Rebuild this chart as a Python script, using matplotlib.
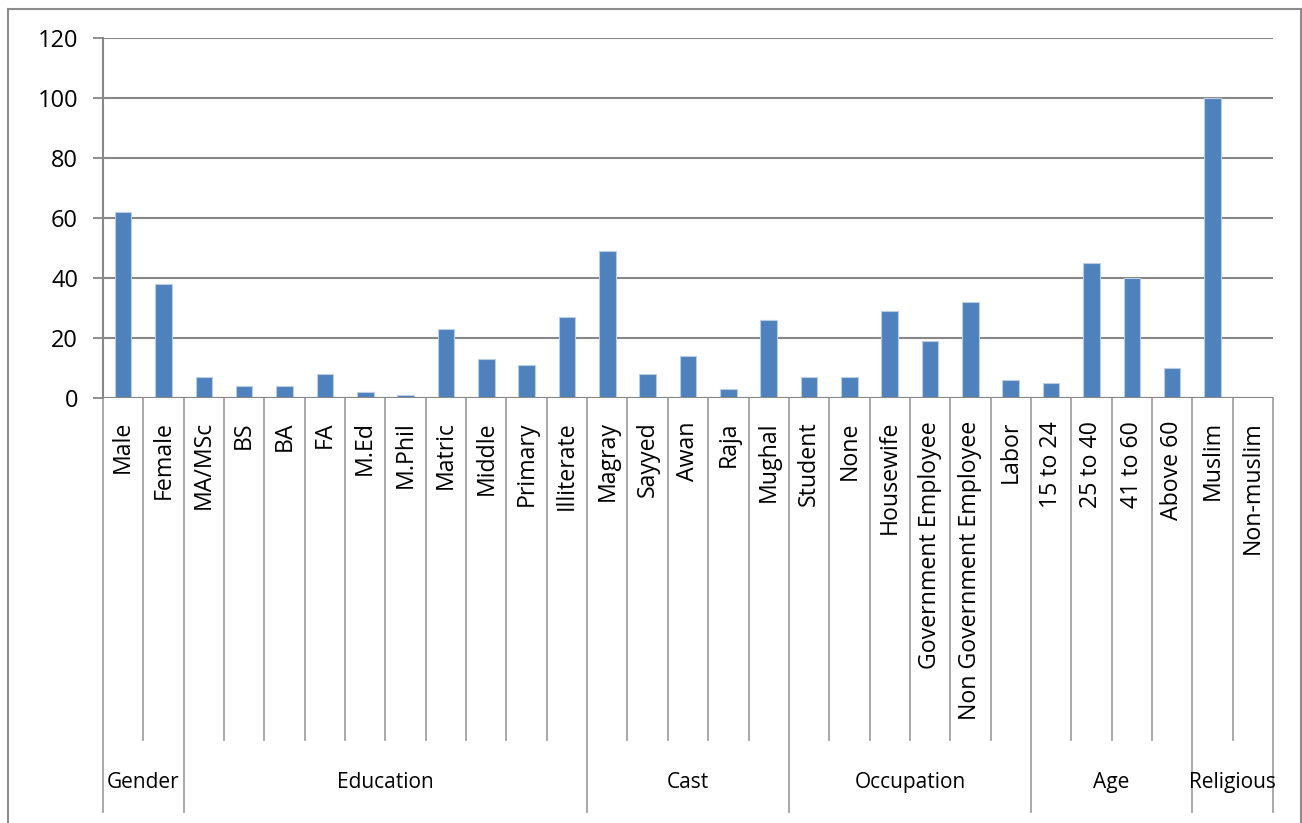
import matplotlib
matplotlib.use("Agg")
import matplotlib.pyplot as plt
from matplotlib.lines import Line2D
from matplotlib.transforms import blended_transform_factory

categories = ["Male", "Female", "MA/MSc", "BS", "BA", "FA", "M.Ed", "M.Phil", "Matric",
              "Middle", "Primary", "Illiterate", "Magray", "Sayyed", "Awan", "Raja", "Mughal",
              "Student", "None", "Housewife", "Government Employee", "Non Government Employee",
              "Labor", "15 to 24", "25 to 40", "41 to 60", "Above 60", "Muslim", "Non-muslim"]
values = [62, 38, 7, 4, 4, 8, 2, 1, 23, 13, 11, 27, 49, 8, 14, 3, 26,
          7, 7, 29, 19, 32, 6, 5, 45, 40, 10, 100, 0]
groups = ["Gender", "Education", "Cast", "Occupation", "Age", "Religious"]
group_sizes = [2, 10, 5, 6, 4, 2]
yticks = [0, 20, 40, 60, 80, 100, 120]

W, H = 1302, 823
fig = plt.figure(figsize=(W / 100, H / 100), dpi=100)
plt.rcParams['font.family'] = ['Open Sans', 'DejaVu Sans']

x0, x1 = 103, 1273
y_top, y_bot = 38, 398
ax = fig.add_axes([x0 / W, 1 - y_bot / H, (x1 - x0) / W, (y_bot - y_top) / H])

grid_c = "#878787"
n = len(categories)
xs = list(range(n))
ax.bar(xs, values, width=0.41, color="#4F81BD", edgecolor="#B9CDE5", linewidth=0.8, zorder=3)
ax.set_xlim(-0.5, n - 0.5)
ax.set_ylim(0, 120)
ax.set_yticks(yticks)
ax.set_yticklabels([str(v) for v in yticks], fontsize=17)
ax.tick_params(axis='y', length=7, width=1.3, color=grid_c, pad=11)
ax.set_xticks([])
for s in ["top", "right", "bottom"]:
    ax.spines[s].set_visible(False)
ax.spines["left"].set_color(grid_c)
ax.spines["left"].set_linewidth(1.5)
ax.yaxis.grid(True, color=grid_c, linewidth=1.5, zorder=0)
ax.set_axisbelow(True)
ax.axhline(0, color=grid_c, linewidth=1.5, zorder=4)

tr = blended_transform_factory(ax.transData, ax.transAxes)
ph = y_bot - y_top
def ay(py):
    return -(py - y_bot) / ph

# boundaries
bounds = [0]
for g in group_sizes:
    bounds.append(bounds[-1] + g)
for i in range(n + 1):
    xb = i - 0.5
    end = 812 if i in bounds else 740
    ax.add_line(Line2D([xb, xb], [0, ay(end)], transform=tr, color="#9a9a9a",
                       linewidth=1.2, clip_on=False))

for i, c in enumerate(categories):
    ax.text(i, ay(421), c, transform=tr, rotation=90, ha='center', va='top',
            fontsize=16.7, color="black", clip_on=False)

for gi, g in enumerate(groups):
    cx = (bounds[gi] + bounds[gi + 1]) / 2 - 0.5
    ax.text(cx, ay(782), g, transform=tr, ha='center', va='center',
            fontsize=15, color="black", clip_on=False)

# outer frame
fc = "#8c8c8c"
fig.add_artist(Line2D([7.5 / W, 7.5 / W], [0, 1 - 9 / H], transform=fig.transFigure, color=fc, linewidth=1.5))
fig.add_artist(Line2D([7.5 / W, 1300.5 / W], [1 - 9 / H, 1 - 9 / H], transform=fig.transFigure, color=fc, linewidth=1.5))
fig.add_artist(Line2D([1300.5 / W, 1300.5 / W], [0, 1 - 9 / H], transform=fig.transFigure, color=fc, linewidth=1.5))

fig.savefig("out.png", dpi=100)
